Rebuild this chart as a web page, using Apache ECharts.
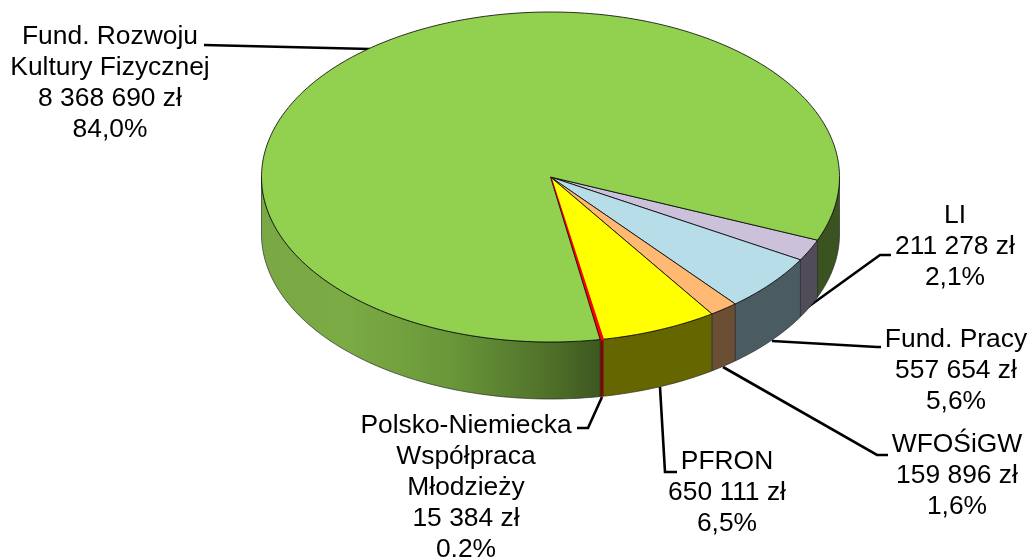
<!DOCTYPE html>
<html>
<head>
<meta charset="utf-8">
<style>
  html, body { margin: 0; padding: 0; background: #fff; }
  #chart { width: 1029px; height: 557px; }
</style>
<script src="https://cdn.jsdelivr.net/npm/echarts@6/dist/echarts.min.js"></script>
</head>
<body>
<div id="chart"></div>
<script>
// clockwise from the start angle
var names = [
  "LI",
  "Fund. Pracy",
  "WFOŚiGW",
  "PFRON",
  "Polsko-Niemiecka\nWspółpraca\nMłodzieży",
  "Fund. Rozwoju\nKultury Fizycznej"
];
var values = [211278, 557654, 159896, 650111, 15384, 8368690];

var topColors = ["#CCC1DA", "#B7DDE8", "#FFB973", "#FFFF00", "#FF0000", "#92D050"];
var sideColors = ["#514C5A", "#4A5B62", "#6B4F35", "#666600", "#800000", "#3B5321"];

// label centre and first line y, then the leader line
var labelPos = [[955, 215], [956, 339], [957, 444], [727, 461], [466, 425], [110, 36]];
var leaders = [
  [[808, 307], [880, 255], [891, 255]],
  [[772, 341], [877, 347], [881, 347]],
  [[723, 367], [877, 455], [888, 455]],
  [[660, 387], [665, 472], [677, 472]],
  [[602, 397], [588, 428], [577, 428]],
  [[204, 45], [370, 49]]
];

var cx = 550.5, cy = 177, rx = 289, ry = 165, depth = 57;
var startAngle = 22.5;
var thinIndex = 4; // the red sliver needs a coloured outline to stay visible
var total = values.reduce(function (a, b) { return a + b; }, 0);

function fmtMoney(v) {
  return String(v).replace(/\B(?=(\d{3})+$)/g, " ") + " zł";
}
function fmtPct(v) {
  return (v / total * 100).toFixed(1).replace(".", ",") + "%";
}
function pt(deg, dy) {
  var t = deg * Math.PI / 180;
  return [cx + rx * Math.cos(t), cy + ry * Math.sin(t) + (dy || 0)];
}
function arc(from, to, dy) {
  var pts = [];
  var n = Math.max(2, Math.ceil(Math.abs(to - from)));
  for (var i = 0; i <= n; i++) {
    pts.push(pt(from + (to - from) * i / n, dy));
  }
  return pts;
}
function wall(from, to, fill, stroke) {
  return {
    type: "polygon",
    shape: { points: arc(from, to, 0).concat(arc(to, from, depth)) },
    style: { fill: fill, stroke: stroke || "#2b2b2b", lineWidth: 0.7 }
  };
}
// wall of the big slice: lit on the left, falling to dark at the sliver
function greenWall() {
  return new echarts.graphic.LinearGradient(1, 0, 0, 0, [
    { offset: 0, color: "#3D5720" },
    { offset: 0.15, color: "#4F7029" },
    { offset: 0.45, color: "#6A983A" },
    { offset: 0.75, color: "#7BAB44" },
    { offset: 1, color: "#7AA844" }
  ]);
}

function renderSlice(params, api) {
  var idx = params.dataIndex;
  var before = 0;
  for (var i = 0; i < idx; i++) before += values[i];
  var a0 = startAngle + before / total * 360;
  var a1 = a0 + api.value(0) / total * 360;
  var children = [];
  var thin = idx === thinIndex;

  // leader under everything
  children.push({
    type: "polyline",
    shape: { points: leaders[idx] },
    style: { fill: null, stroke: "#000", lineWidth: 2.6 }
  });

  // only the front half of the rim is visible
  if (a1 > 360) {
    // big slice wraps past 0: left front part, and right part up to the start
    children.push(wall(a0, 180, greenWall()));
    children.push(wall(0, a1 - 360, sideColors[idx]));
  } else {
    children.push(wall(a0, Math.min(a1, 180), sideColors[idx], thin ? "#800000" : null));
  }

  children.push({
    type: "polygon",
    shape: { points: [[cx, cy]].concat(arc(a0, a1, 0)) },
    style: {
      fill: topColors[idx],
      stroke: thin ? "#FF0000" : "#000",
      lineWidth: thin ? 2 : 0.8
    }
  });

  var pos = labelPos[idx];
  var text = names[idx] + "\n" + fmtMoney(values[idx]) + "\n" + fmtPct(values[idx]);
  children.push({
    type: "text",
    style: {
      x: pos[0],
      y: pos[1] - 14.5,
      text: text,
      fill: "#000",
      font: "26.4px 'Liberation Sans', Arial, sans-serif",
      lineHeight: 31,
      align: "center",
      verticalAlign: "top"
    }
  });
  return { type: "group", children: children };
}

var chart = echarts.init(document.getElementById("chart"));
chart.setOption({
  backgroundColor: "#fff",
  animation: false,
  series: [{
    type: "custom",
    coordinateSystem: "none",
    renderItem: renderSlice,
    data: values.map(function (v, i) { return { name: names[i], value: [v] }; })
  }]
});
</script>
</body>
</html>
